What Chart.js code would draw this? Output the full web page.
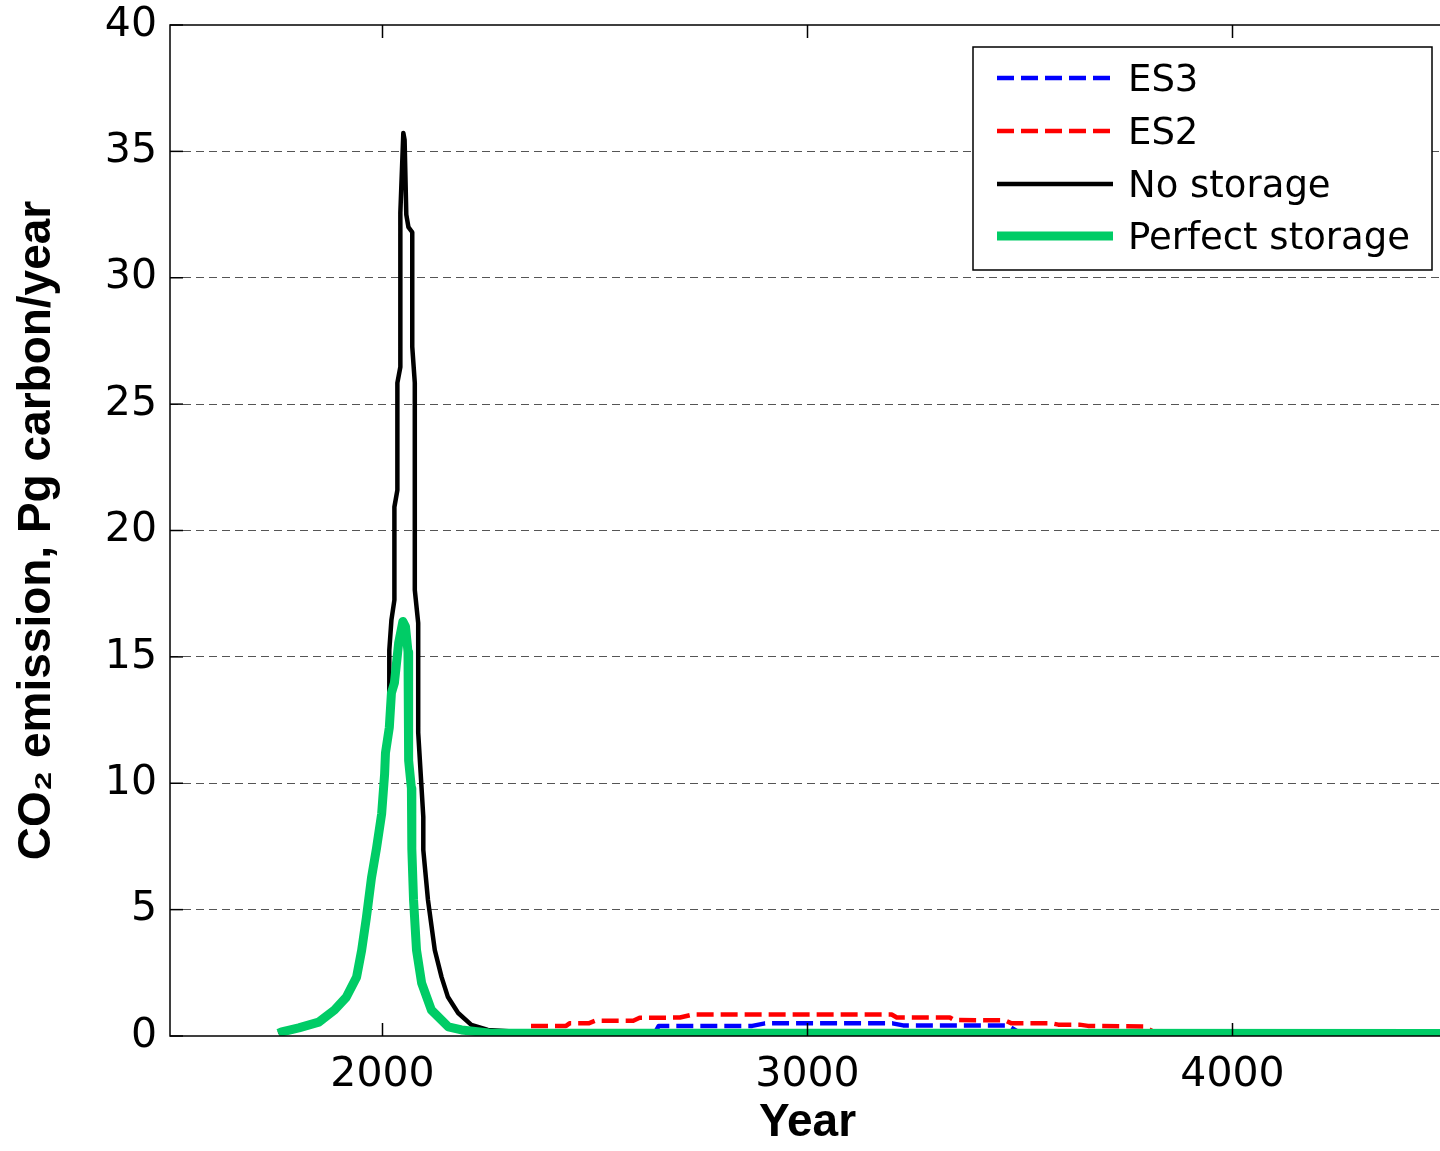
<!DOCTYPE html>
<html>
<head>
<meta charset="utf-8">
<script src="https://cdn.jsdelivr.net/npm/chart.js@4.4.1/dist/chart.umd.min.js"></script>
<style>
    html, body { margin: 0; padding: 0; overflow: hidden; background: #fff; }
    canvas { display: block; }
</style>
</head>
<body>
<canvas id="myChart" width="1446" height="1151"></canvas>
<script>
// Dados
var perfectYears = [1755, 1763, 1803, 1850, 1887, 1915, 1939, 1951, 1962, 1974, 1986, 1998, 2005, 2007, 2016, 2021, 2028, 2038, 2048, 2054, 2060, 2061, 2062, 2068, 2069, 2073, 2080, 2092, 2115, 2155, 2186, 2250, 4500];
var perfectValues = [0.1, 0.16, 0.32, 0.55, 1.03, 1.54, 2.33, 3.4, 4.67, 6.25, 7.44, 8.79, 10.37, 11.2, 12.2, 13.57, 13.97, 15.55, 16.4, 16.2, 15.2, 12.6, 10.9, 9.8, 7.4, 5.4, 3.4, 2.1, 1.03, 0.36, 0.24, 0.12, 0.1];

var noStorageYears = [1755, 1763, 1803, 1850, 1887, 1915, 1939, 1951, 1962, 1974, 1986, 1998, 2005, 2007, 2016, 2016, 2021, 2028, 2028, 2035, 2035, 2042, 2042, 2049, 2052, 2056, 2061, 2070, 2070, 2076, 2076, 2084, 2084, 2096, 2096, 2107, 2123, 2139, 2154, 2178, 2209, 2248, 2327, 4500];
var noStorageValues = [0.1, 0.16, 0.32, 0.55, 1.03, 1.54, 2.33, 3.4, 4.67, 6.25, 7.44, 8.79, 10.37, 11.2, 12.2, 15.27, 16.46, 17.25, 20.93, 21.6, 25.84, 26.47, 32.57, 35.73, 35.45, 32.5, 32.0, 31.8, 27.27, 25.84, 17.65, 16.34, 12.0, 8.67, 7.36, 5.38, 3.4, 2.33, 1.54, 0.91, 0.44, 0.24, 0.16, 0.1];

var es2Years = [2250, 2340, 2345, 2432, 2440, 2485, 2500, 2590, 2605, 2700, 2730, 3198, 3210, 3335, 3345, 3465, 3480, 3575, 3590, 3640, 3660, 3790, 3820, 4500];
var es2Values = [0.1, 0.1, 0.4, 0.4, 0.5, 0.5, 0.6, 0.6, 0.72, 0.73, 0.85, 0.85, 0.73, 0.73, 0.63, 0.62, 0.5, 0.5, 0.45, 0.45, 0.4, 0.38, 0.12, 0.1];

var es3Years = [2250, 2640, 2650, 2870, 2900, 3200, 3225, 3470, 3500, 4500];
var es3Values = [0.1, 0.1, 0.4, 0.4, 0.5, 0.5, 0.42, 0.42, 0.12, 0.1];

var xTicks = [2000, 3000, 4000];
var yTicks = [0, 5, 10, 15, 20, 25, 30, 35, 40];

function pts(xs, ys) {
    return xs.map(function (x, i) { return { x: x, y: ys[i] }; });
}

var tickFont = { family: 'DejaVu Sans', size: 41 };
var titleFont = { family: 'Liberation Sans', size: 46, weight: 'bold' };

var data = {
    datasets: [
        { label: 'ES3', data: pts(es3Years, es3Values), borderColor: '#0000ff', borderWidth: 4.5, borderDash: [17, 7], order: 3 },
        { label: 'ES2', data: pts(es2Years, es2Values), borderColor: '#ff0000', borderWidth: 4.5, borderDash: [17, 7], order: 2 },
        { label: 'No storage', data: pts(noStorageYears, noStorageValues), borderColor: '#000000', borderWidth: 4.5, order: 1 },
        { label: 'Perfect storage', data: pts(perfectYears, perfectValues), borderColor: '#00cc66', borderWidth: 9, order: 0 }
    ]
};

// caixa, marcas internas e legenda
var frame = {
    id: 'frame',
    afterDatasetsDraw: function (chart) {
        var c = chart.ctx, a = chart.chartArea;
        var xs = chart.scales.x, ys = chart.scales.y;
        c.save();
        c.strokeStyle = '#000';
        c.lineWidth = 1.5;
        c.setLineDash([]);
        c.strokeRect(a.left, a.top, a.right - a.left, a.bottom - a.top);
        xTicks.forEach(function (v) {
            var px = xs.getPixelForValue(v);
            c.beginPath();
            c.moveTo(px, a.bottom); c.lineTo(px, a.bottom - 13);
            c.moveTo(px, a.top); c.lineTo(px, a.top + 13);
            c.stroke();
        });
        yTicks.forEach(function (v) {
            var py = ys.getPixelForValue(v);
            c.beginPath();
            c.moveTo(a.left, py); c.lineTo(a.left + 13, py);
            c.stroke();
        });
        c.restore();
    },
    afterDraw: function (chart) {
        var c = chart.ctx;
        var bx = 973, by = 47, bw = 459, bh = 223;
        var rows = [78, 131, 184, 236];
        c.save();
        c.fillStyle = '#fff';
        c.fillRect(bx, by, bw, bh);
        c.strokeStyle = '#000';
        c.lineWidth = 1.5;
        c.strokeRect(bx, by, bw, bh);
        data.datasets.forEach(function (ds, i) {
            c.beginPath();
            c.strokeStyle = ds.borderColor;
            c.lineWidth = ds.borderWidth;
            c.setLineDash(ds.borderDash || []);
            c.moveTo(997, rows[i]);
            c.lineTo(1113, rows[i]);
            c.stroke();
            c.setLineDash([]);
            c.fillStyle = '#000';
            c.font = '37px "DejaVu Sans"';
            c.textBaseline = 'alphabetic';
            c.fillText(ds.label, 1128, rows[i] + 13);
        });
        c.restore();
    }
};

var options = {
    responsive: false,
    animation: false,
    layout: { padding: { left: 0, top: 25, right: 1, bottom: 0 } },
    elements: { point: { radius: 0 }, line: { tension: 0, borderJoinStyle: 'round', fill: false } },
    plugins: { legend: { display: false }, tooltip: { enabled: false } },
    scales: {
        x: {
            type: 'linear',
            min: 1500,
            max: 4500,
            afterBuildTicks: function (s) { s.ticks = xTicks.map(function (v) { return { value: v }; }); },
            afterFit: function (s) { s.height = 115; s.paddingLeft = 0; s.paddingRight = 0; },
            grid: { display: false, drawTicks: false },
            border: { display: false },
            ticks: { padding: 15, color: '#000', font: tickFont, callback: function (v) { return String(v); } },
            title: { display: true, text: 'Year', color: '#000', font: titleFont, padding: { top: 0, bottom: 0 } }
        },
        y: {
            min: 0,
            max: 40,
            afterBuildTicks: function (s) { s.ticks = yTicks.map(function (v) { return { value: v }; }); },
            afterFit: function (s) { s.width = 170; s.paddingTop = 0; s.paddingBottom = 0; },
            grid: {
                drawTicks: false,
                lineWidth: 1,
                color: function (ctx) {
                    var v = ctx.tick ? ctx.tick.value : 0;
                    return (v === 0 || v === 40) ? 'rgba(0,0,0,0)' : '#555555';
                }
            },
            border: { display: false, dash: [8, 5] },
            ticks: { padding: 13, color: '#000', font: tickFont },
            title: { display: true, text: 'CO₂ emission, Pg carbon/year', color: '#000', font: titleFont, padding: { top: 10, bottom: 0 } }
        }
    }
};

var ctx = document.getElementById('myChart').getContext('2d');
var myChart = new Chart(ctx, {
    type: 'line',
    data: data,
    options: options,
    plugins: [frame]
});
</script>
</body>
</html>
